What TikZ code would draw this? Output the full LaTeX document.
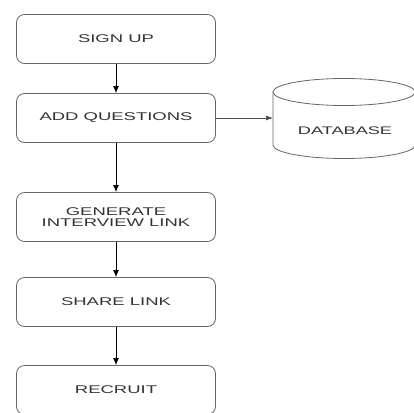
\documentclass[tikz,border=0pt]{standalone}
\usepackage{fontspec}
\newfontfamily\wf[FakeStretch=1.65]{Liberation Sans}
\usetikzlibrary{arrows.meta}
\begin{document}
\begin{tikzpicture}[x=1pt,y=1pt,
  box/.style={draw=black!60, line width=0.8pt, rounded corners=8pt,
    minimum width=199pt, minimum height=49pt, inner sep=0pt,
    font=\wf\fontsize{11.2}{11}\selectfont, text=black!80, align=center},
  lbl/.style={font=\wf\fontsize{11}{11}\selectfont, text=black!80, inner sep=0pt},
  cyl/.style={draw=black!60, line width=0.8pt},
  arr/.style={-{Latex[length=7pt,width=6pt]}, line width=0.9pt, draw=black},
  harr/.style={-{Latex[length=7pt,width=5pt]}, line width=0.6pt, draw=black!70}]
\useasboundingbox (0,0) rectangle (414,-412);
\clip (0,0) rectangle (414,-412);
\node[box] (su) at (116,-39) {SIGN UP};
\node[box] (aq) at (116,-118) {ADD QUESTIONS};
\node[box] (gl) at (116,-217) {GENERATE\\INTERVIEW LINK};
\node[box] (sl) at (116,-302) {SHARE LINK};
\node[box] (rc) at (116,-390) {RECRUIT};
% database cylinder
\draw[cyl] (344,-92) ellipse [x radius=71, y radius=13.5];
\draw[cyl] (273,-92) -- (273,-145) arc[start angle=180, end angle=360, x radius=71, y radius=13.5] -- (415,-92);
\node[lbl] (db) at (345,-131) {DATABASE};
\coordinate (dbl) at (273,-118);
% connectors
\draw[arr] (su) -- (aq);
\draw[arr] (aq) -- (gl);
\draw[arr] (gl) -- (sl);
\draw[arr] (sl) -- (rc);
\draw[harr] (aq.east) -- (dbl);
\end{tikzpicture}
\end{document}
